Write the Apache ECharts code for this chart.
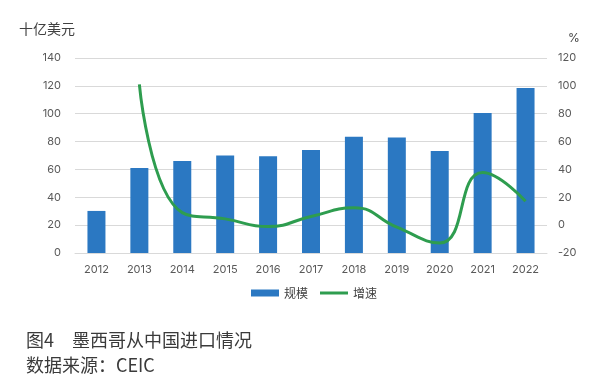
<!DOCTYPE html>
<html><head><meta charset="utf-8">
<script src="https://cdn.jsdelivr.net/npm/echarts@6/dist/echarts.min.js"></script>
<style>html,body{margin:0;padding:0;background:#fff}#c{width:603px;height:392px}</style>
</head><body><div id="c"></div>
<script>
const categories = ['2012','2013','2014','2015','2016','2017','2018','2019','2020','2021','2022'];
const scaleValues = [30.2, 61, 66, 70, 69.5, 74, 83.5, 83, 73.3, 100.5, 118.5];
const growthValues = [null, 101, 9, 4.5, -1, 6.2, 12.4, -1.5, -12.8, 37.8, 17.2];
const leftAxisName = '十亿美元';
const rightAxisName = '%';
const legendNames = ['规模', '增速'];
const captionTitle = '图4　墨西哥从中国进口情况';
const captionSource = '数据来源：CEIC';

const font = 'Inter, "Noto Sans CJK SC", sans-serif';
const chart = echarts.init(document.getElementById('c'), null, {renderer: 'canvas'});
chart.setOption({
  animation: false,
  backgroundColor: '#fff',
  textStyle: {fontFamily: font},
  grid: {left: 75, right: 56, top: 58, bottom: 139},
  legend: {
    data: [
      {name: legendNames[0], icon: 'rect'},
      {name: legendNames[1], icon: 'path://M0,0H28V3H0Z'}
    ],
    left: 246, top: 282, itemWidth: 28, itemHeight: 7, itemGap: 12,
    textStyle: {color: '#404040', fontSize: 12, fontFamily: '"Noto Sans CJK SC"'}
  },
  xAxis: {
    type: 'category', data: categories,
    axisLine: {show: true, lineStyle: {color: '#d9d9d9'}},
    axisTick: {show: false},
    axisLabel: {color: '#595959', fontSize: 11, margin: 11}
  },
  yAxis: [
    {
      type: 'value', min: 0, max: 140, interval: 20,
      name: leftAxisName, nameLocation: 'end', nameGap: 22,
      nameTextStyle: {align: 'right', color: '#404040', fontSize: 14, fontFamily: '"Noto Sans CJK SC"'},
      axisLine: {show: false}, axisTick: {show: false},
      axisLabel: {color: '#595959', fontSize: 11, margin: 14},
      splitLine: {lineStyle: {color: '#d9d9d9', width: 1}}
    },
    {
      type: 'value', min: -20, max: 120, interval: 20,
      name: rightAxisName, nameLocation: 'end', nameGap: 14,
      nameTextStyle: {align: 'left', color: '#404040', fontSize: 12, padding: [0, 0, 0, 21]},
      axisLine: {show: false}, axisTick: {show: false},
      axisLabel: {color: '#595959', fontSize: 11, margin: 11},
      splitLine: {show: false}
    }
  ],
  series: [
    {
      name: legendNames[0], type: 'bar', data: scaleValues, yAxisIndex: 0,
      barWidth: 18,
      itemStyle: {color: '#2b78c2'}
    },
    {
      name: legendNames[1], type: 'line', data: growthValues, yAxisIndex: 1,
      smooth: 0.5, showSymbol: false, symbol: 'none', connectNulls: false,
      lineStyle: {color: '#2e9d4f', width: 3},
      itemStyle: {color: '#2e9d4f'}
    }
  ],
  graphic: [
    {type: 'text', left: 26, top: 331, style: {text: captionTitle, fontSize: 18, fill: '#3a3a3a', fontFamily: '"Noto Sans CJK SC"'}},
    {type: 'text', left: 26, top: 356, style: {text: captionSource, fontSize: 18, fill: '#3a3a3a', fontFamily: '"Noto Sans CJK SC"'}}
  ]
});
</script>
</body></html>
